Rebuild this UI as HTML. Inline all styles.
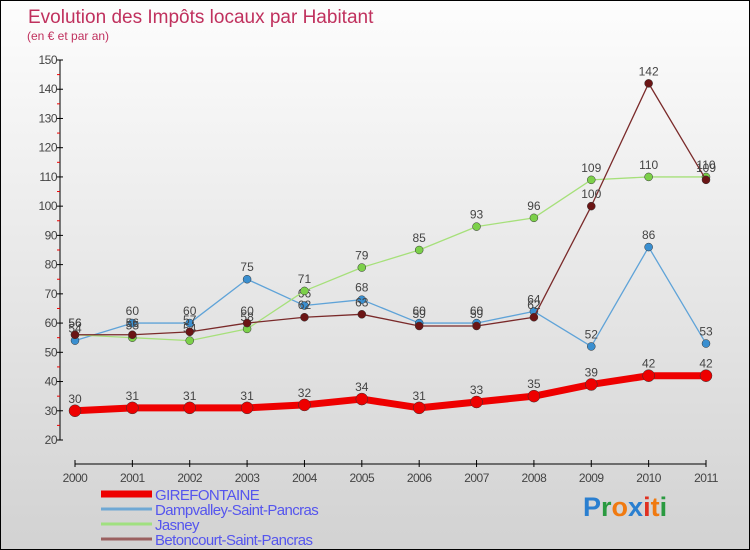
<!DOCTYPE html>
<html><head><meta charset="utf-8"><style>
body{margin:0}
#c{width:748px;height:548px;border:1px solid #000;background:linear-gradient(#fdfdfd,#d2d2d2);position:relative;font-family:"Liberation Sans",sans-serif;overflow:hidden}
</style></head><body>
<div id="c">
<svg id="s" width="748" height="548"></svg>
</div>
<script>
const years=["2000","2001","2002","2003","2004","2005","2006","2007","2008","2009","2010","2011"];
const gire=[30,31,31,31,32,34,31,33,35,39,42,42];
const damp=[54,60,60,75,66,68,60,60,64,52,86,53];
const jasney=[56,55,54,58,71,79,85,93,96,109,110,110];
const beton=[56,56,57,60,62,63,59,59,62,100,142,109];
const yTicks=[20,30,40,50,60,70,80,90,100,110,120,130,140,150];
const NS="http://www.w3.org/2000/svg";
const s=document.getElementById('s');
function X(i){return 74+i*(705-74)/11;}
function Y(v){return 439-(v-20)*(380/130);}
function el(t,a,p){const e=document.createElementNS(NS,t);for(const k in a)e.setAttribute(k,a[k]);(p||s).appendChild(e);return e;}
let t=el('text',{x:27,y:22,'font-size':19,fill:'#c0315e'});t.textContent='Evolution des Impôts locaux par Habitant';

t=el('text',{x:26,y:39,'font-size':12,fill:'#c0315e'});t.textContent='(en € et par an)';

// y axis
let ax=el('g',{});
el('line',{x1:59,y1:Y(150),x2:59,y2:Y(20),stroke:'#000'},ax);
yTicks.forEach((v,i)=>{el('line',{x1:56,y1:Y(v),x2:62,y2:Y(v),stroke:'#000'},ax);
 if(i<yTicks.length-1)el('line',{x1:56,y1:Y(v+5),x2:59,y2:Y(v+5),stroke:'#e00'},ax);
 const tx=el('text',{x:56,y:Y(v)+4,'font-size':12,'text-anchor':'end',fill:'#444','letter-spacing':'-0.5'},ax);tx.textContent=v;});
let xa=el('g',{});
el('line',{x1:X(0),y1:463,x2:X(11),y2:463,stroke:'#000'},xa);
years.forEach((y,i)=>{el('line',{x1:X(i),y1:459,x2:X(i),y2:466,stroke:'#000'},xa);
 const tx=el('text',{x:X(i),y:481,'font-size':12,'text-anchor':'middle',fill:'#444','letter-spacing':'-0.5'},xa);tx.textContent=y;});
function series(name,d,col,w,r,dot){
 const g=el('g',{});
 el('polyline',{points:d.map((v,i)=>X(i)+','+Y(v)).join(' '),fill:'none',stroke:col,'stroke-width':w,'stroke-linejoin':'round'},g);
 d.forEach((v,i)=>{const c=el('circle',{cx:X(i),cy:Y(v),r:r,fill:dot,stroke:'#333','stroke-width':0.5},g);
  
  const tx=el('text',{x:X(i),y:Y(v)-8,'font-size':12,'text-anchor':'middle',fill:'#444'},g);tx.textContent=v;});
}
series('damp',damp,'#5fa3d8',1.3,4,'#3a8fd0');
series('jasney',jasney,'#a6e07a',1.3,4,'#7cd04a');
series('beton',beton,'#7a2a2a',1.3,4,'#6b1515');
series('gire',gire,'#ee0000',7,6,'#ee0000');
// legend
const L=[['GIREFONTAINE','#ee0000',7],['Dampvalley-Saint-Pancras','#6fa8d4',3],['Jasney','#a0e080',3],['Betoncourt-Saint-Pancras','#9a6060',3]];
L.forEach((l,i)=>{const g=el('g',{});
 const yy=493+i*15;
 el('line',{x1:100,y1:yy,x2:151,y2:yy,stroke:l[1],'stroke-width':l[2]},g);
 const tx=el('text',{x:154,y:yy+6,'font-size':15,fill:'#5555ee','letter-spacing':'-0.6'},g);tx.textContent=l[0];});
// logo
const lg=el('text',{x:582,y:515,'font-size':27,'font-weight':'bold'});

[['P','#2a7fd0'],['r','#2a9a40'],['o','#f07a10'],['x','#2a7fd0'],['i','#e03020'],['t','#f07a10'],['i','#2a9a40']].forEach(c=>{const ts=el('tspan',{fill:c[1]},lg);ts.textContent=c[0];});
</script>
</body></html>
